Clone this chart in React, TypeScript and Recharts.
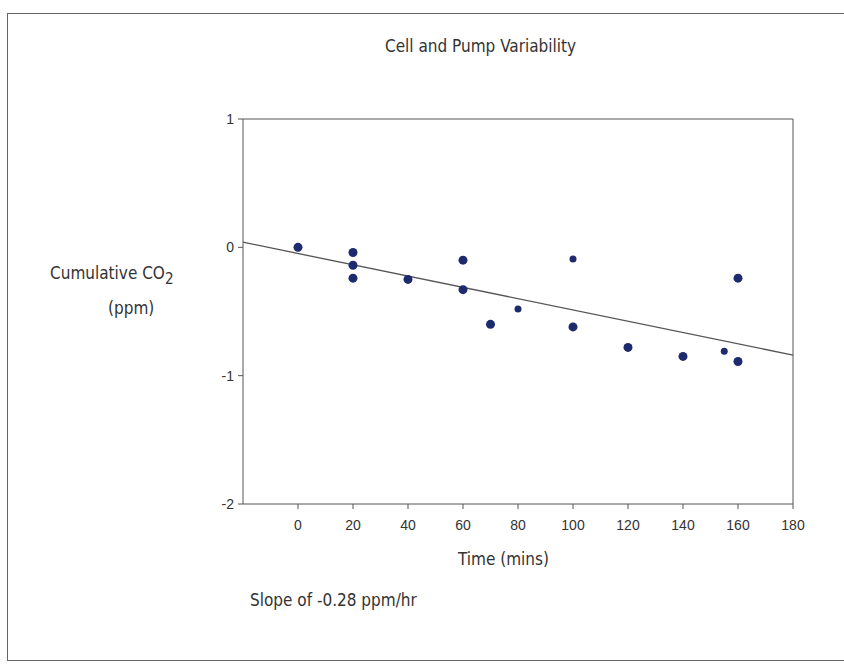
import React from 'react'
import { ScatterChart, Scatter, XAxis, YAxis, ReferenceLine } from 'recharts'

// readings (time in mins, cumulative CO2 in ppm)
const bigTimes = [0, 20, 20, 20, 40, 60, 60, 70, 100, 120, 140, 160, 160]
const bigValues = [0.0, -0.04, -0.14, -0.24, -0.25, -0.1, -0.33, -0.6, -0.62, -0.78, -0.85, -0.89, -0.24]
const smallTimes = [80, 100, 155]
const smallValues = [-0.48, -0.09, -0.81]

// fitted trend line end points
const trendTimes = [-20, 180]
const trendValues = [0.04, -0.84]

const xTicks = [0, 20, 40, 60, 80, 100, 120, 140, 160, 180]
const yTicks = [-2, -1, 0, 1]
const xDomain = [-20, 180]
const yDomain = [-2, 1]

const bigData = bigTimes.map((t, i) => ({ t, v: bigValues[i] }))
const smallData = smallTimes.map((t, i) => ({ t, v: smallValues[i] }))

const DOT = '#1e2a6e'
const AXIS = '#555'
const TEXT = '#333'
const labelFont = "'DejaVu Sans Condensed', 'Liberation Sans Narrow', 'Open Sans', sans-serif"
const tickFont = "'Liberation Sans', Arial, sans-serif"

const dot = (r: number) => (p: any) => <circle cx={p.cx} cy={p.cy} r={r} fill={DOT} />

export default function App() {
  return (
    <div style={{ position: 'fixed', left: 0, top: 0, width: 844, height: 669, background: '#fff', overflow: 'hidden' }}>
      <div style={{ position: 'absolute', left: 7, top: 13, width: 840, height: 648, border: '1.5px solid #666', boxSizing: 'border-box' }} />
      <ScatterChart width={844} height={669} margin={{ top: 119, right: 51, bottom: 135, left: 203 }}>
        <XAxis
          type="number"
          dataKey="t"
          domain={xDomain}
          ticks={xTicks}
          allowDataOverflow
          height={30}
          tickSize={5}
          tickMargin={11}
          stroke={AXIS}
          fontSize={14}
          tick={{ fill: TEXT, fontSize: 14, fontFamily: tickFont }}
        />
        <YAxis
          type="number"
          dataKey="v"
          domain={yDomain}
          ticks={yTicks}
          allowDataOverflow
          width={40}
          tickSize={5}
          tickMargin={4}
          stroke={AXIS}
          fontSize={14}
          tick={{ fill: TEXT, fontSize: 14, fontFamily: tickFont }}
        />
        <ReferenceLine y={yDomain[1]} stroke={AXIS} />
        <ReferenceLine x={xDomain[1]} stroke={AXIS} />
        <ReferenceLine
          segment={[{ x: trendTimes[0], y: trendValues[0] }, { x: trendTimes[1], y: trendValues[1] }]}
          stroke="#555"
          strokeWidth={1.3}
        />
        <Scatter data={bigData} shape={dot(4.5)} isAnimationActive={false} />
        <Scatter data={smallData} shape={dot(3.5)} isAnimationActive={false} />
      </ScatterChart>
      <div style={{ position: 'absolute', left: 385, top: 36, fontFamily: labelFont, fontSize: 17, color: TEXT, whiteSpace: 'nowrap' }}>
        Cell and Pump Variability
      </div>
      <div style={{ position: 'absolute', left: 50, top: 263, fontFamily: labelFont, fontSize: 17, color: TEXT, whiteSpace: 'nowrap' }}>
        Cumulative CO<span style={{ fontSize: 15, position: 'relative', top: 5 }}>2</span>
      </div>
      <div style={{ position: 'absolute', left: 108, top: 298, fontFamily: labelFont, fontSize: 17, color: TEXT }}>(ppm)</div>
      <div style={{ position: 'absolute', left: 458, top: 549, fontFamily: labelFont, fontSize: 17, color: TEXT }}>Time (mins)</div>
      <div style={{ position: 'absolute', left: 250, top: 590, fontFamily: labelFont, fontSize: 17, color: TEXT }}>Slope of -0.28 ppm/hr</div>
    </div>
  )
}
